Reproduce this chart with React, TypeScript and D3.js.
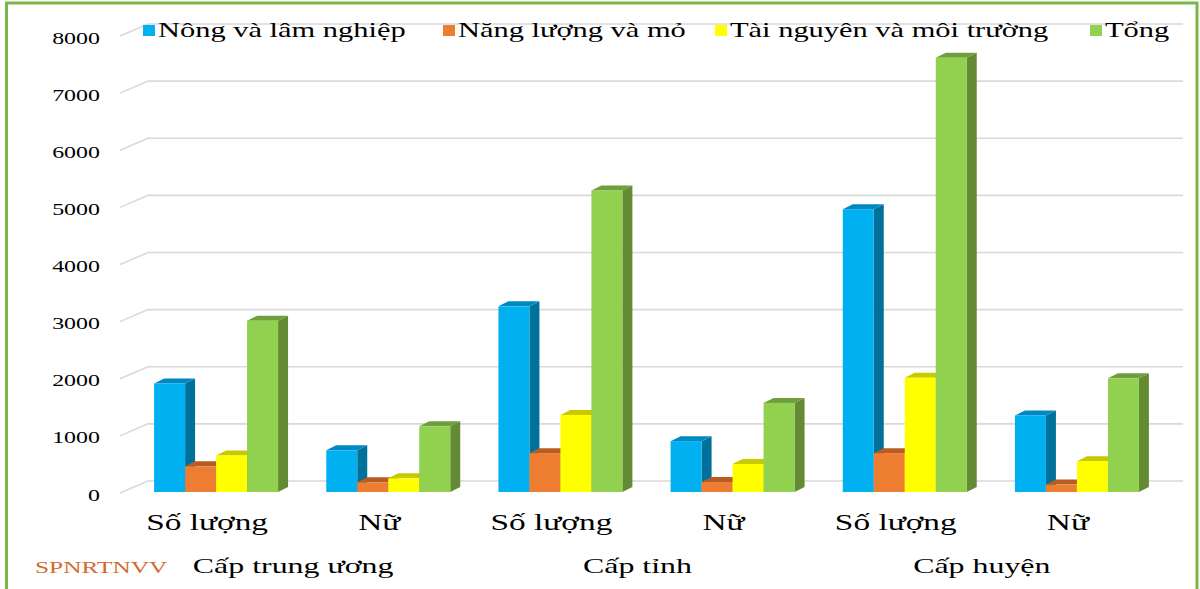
import React from "react"
import * as d3 from "d3"

// chart values
const groupLabels = ["Số lượng", "Nữ", "Số lượng", "Nữ", "Số lượng", "Nữ"]
const levelLabels = ["Cấp trung ương", "Cấp tỉnh", "Cấp huyện"]
const seriesNames = ["Nông và lâm nghiệp", "Năng lượng và mỏ", "Tài nguyên và môi trường", "Tổng"]
const nongLamNghiep = [1900, 730, 3250, 890, 4950, 1340]
const nangLuongMo = [450, 170, 680, 175, 680, 130]
const taiNguyenMoiTruong = [640, 240, 1350, 490, 2000, 540]
const tong = [3000, 1150, 5280, 1560, 7600, 1990]
const yTicks = [0, 1000, 2000, 3000, 4000, 5000, 6000, 7000, 8000]

const seriesValues = [nongLamNghiep, nangLuongMo, taiNguyenMoiTruong, tong]
// front, side, top shades
const colors = [
  { front: "#00B0F0", side: "#00719B", top: "#0088C2" },
  { front: "#ED7D31", side: "#A9541C", top: "#B95C22" },
  { front: "#FFFF00", side: "#A8A800", top: "#C9C900" },
  { front: "#92D050", side: "#638B33", top: "#6F9E3C" },
]

const W = 1200
const H = 589
const SX = 1.45 // the picture is stretched sideways
const FONT = "'Liberation Serif', 'Times New Roman', serif"
const DX = 10 // bar depth
const DY = 5
const WALL_DX = 28
const WALL_DY = 11

function SText({ x, y, size, anchor = "start", fill = "#000", children }: any) {
  return (
    <text
      transform={`translate(${x},${y}) scale(${SX},1)`}
      fontSize={size}
      fontFamily={FONT}
      textAnchor={anchor}
      fill={fill}
    >
      {children}
    </text>
  )
}

export default function App() {
  const y = d3.scaleLinear().domain([0, 8000]).range([492, 35])

  const x = d3.scaleBand<number>()
    .domain(d3.range(groupLabels.length))
    .range([130, 1163])
    .paddingInner(0.28)
    .paddingOuter(0.14)

  const xs = d3.scaleBand<number>()
    .domain(d3.range(seriesNames.length))
    .range([0, x.bandwidth()])

  const bw = xs.bandwidth()

  const legendX = [143, 443, 715, 1090]

  return (
    <svg width={W} height={H} style={{ position: "absolute", left: 0, top: 0, background: "#fff" }}>
      {/* gridlines: left wall diagonal + back wall */}
      {yTicks.map(t => (
        <g key={t}>
          <path
            d={`M120,${y(t) + 1} L${120 + WALL_DX},${y(t) - WALL_DY} L1183,${y(t) - WALL_DY}`}
            fill="none"
            stroke="#D9D9D9"
            strokeWidth={1.6}
          />
          <SText x={100} y={y(t) + 8.5} size={16.5} anchor="end">{t}</SText>
        </g>
      ))}

      {/* 3D bars */}
      {groupLabels.map((_, gi) => (
        <g key={gi}>
          {seriesValues.map((vals, si) => {
            const x0 = (x(gi) as number) + (xs(si) as number)
            const x1 = x0 + bw
            const yt = y(vals[gi])
            const yb = y(0)
            const c = colors[si]
            return (
              <g key={si}>
                <path d={`M${x1},${yt} L${x1 + DX},${yt - DY} L${x1 + DX},${yb - DY} L${x1},${yb} Z`} fill={c.side} />
                <path d={`M${x0},${yt} L${x0 + DX},${yt - DY} L${x1 + DX},${yt - DY} L${x1},${yt} Z`} fill={c.top} />
                <rect x={x0} y={yt} width={bw} height={yb - yt} fill={c.front} />
              </g>
            )
          })}
          <SText x={(x(gi) as number) + x.bandwidth() / 2 - 9} y={530} size={23} anchor="middle">
            {groupLabels[gi]}
          </SText>
        </g>
      ))}

      {levelLabels.map((l, i) => {
        const a = (x(i * 2) as number) + x.bandwidth() / 2
        const b = (x(i * 2 + 1) as number) + x.bandwidth() / 2
        return (
          <SText key={l} x={(a + b) / 2 - 9} y={573} size={22} anchor="middle">{l}</SText>
        )
      })}

      <SText x={35} y={573} size={17.5} fill="#D46A2C">SPNRTNVV</SText>

      {/* legend */}
      {seriesNames.map((s, i) => (
        <g key={s}>
          <rect x={legendX[i]} y={25} width={12} height={11} fill={colors[i].front} />
          <SText x={legendX[i] + 15} y={37} size={21}>{s}</SText>
        </g>
      ))}

      <rect x={6.5} y={3} width={1190.5} height={H + 10} fill="none" stroke="#7AB648" strokeWidth={3} />
    </svg>
  )
}
